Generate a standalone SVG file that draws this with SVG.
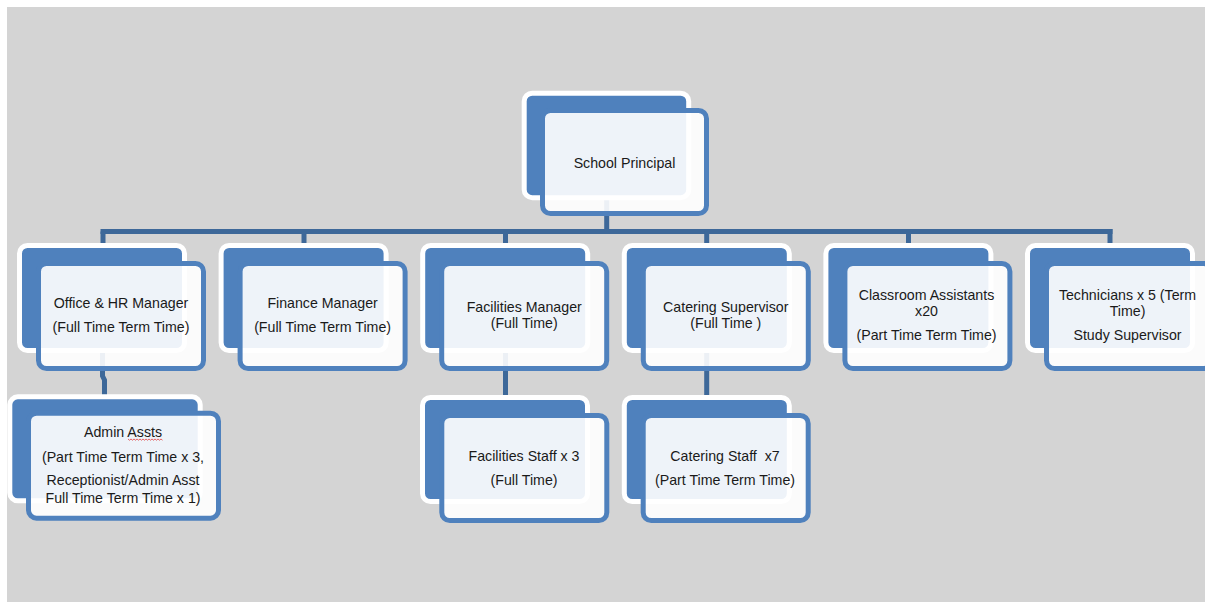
<svg xmlns="http://www.w3.org/2000/svg" width="1205" height="602" viewBox="0 0 1205 602">
<style>
.back{fill:#4F81BD;stroke:#FFFFFF;stroke-width:5}
.front{fill:#FFFFFF;fill-opacity:0.9;stroke:#4F81BD;stroke-width:5}
.conn{stroke:#3D6899;stroke-width:5;fill:none}
text{font-family:"Liberation Sans",Arial,sans-serif;font-size:14.2px;fill:#1A1A1A;text-anchor:middle;white-space:pre}
</style>
<rect x="0" y="0" width="1205" height="602" fill="#FFFFFF"/>
<rect x="7" y="7" width="1198" height="595" fill="#D4D4D4"/>
<g id="connectors">
<path class="conn" d="M606.7 195 V232"/>
<path class="conn" d="M100.5 231.5 H1112.5"/>
<path class="conn" d="M103 231.5 V250"/>
<path class="conn" d="M304 231.5 V250"/>
<path class="conn" d="M505.5 231.5 V250"/>
<path class="conn" d="M706.7 231.5 V250"/>
<path class="conn" d="M908.5 231.5 V250"/>
<path class="conn" d="M1110 229 V250"/>
<path class="conn" d="M102.5 345 V376 L104.5 380 V400"/>
<path class="conn" d="M505.5 345 V400"/>
<path class="conn" d="M706.7 345 V400"/>
</g>
<g id="school-principal">
<rect class="back" x="524.2" y="93.2" width="164.5" height="104.5" rx="8"/>
<rect class="front" x="542.5" y="110.5" width="164" height="103" rx="8"/>
<text x="624.5" y="168">School Principal</text>
</g>
<g id="office-hr-manager">
<rect class="back" x="19.5" y="245.5" width="165" height="105" rx="8"/>
<rect class="front" x="38.5" y="263.5" width="165" height="105" rx="8"/>
<text x="121" y="308">Office &amp; HR Manager</text>
<text x="121" y="332">(Full Time Term Time)</text>
</g>
<g id="finance-manager">
<rect class="back" x="221.1" y="245.5" width="165" height="105" rx="8"/>
<rect class="front" x="240.1" y="263.5" width="165" height="105" rx="8"/>
<text x="322.6" y="308">Finance Manager</text>
<text x="322.6" y="332">(Full Time Term Time)</text>
</g>
<g id="facilities-manager">
<rect class="back" x="422.7" y="245.5" width="165" height="105" rx="8"/>
<rect class="front" x="441.7" y="263.5" width="165" height="105" rx="8"/>
<text x="524.2" y="312">Facilities Manager</text>
<text x="524.2" y="328">(Full Time)</text>
</g>
<g id="catering-supervisor">
<rect class="back" x="624.3" y="245.5" width="165" height="105" rx="8"/>
<rect class="front" x="643.3" y="263.5" width="165" height="105" rx="8"/>
<text x="725.8" y="312">Catering Supervisor</text>
<text x="725.8" y="328">(Full Time )</text>
</g>
<g id="classroom-assistants">
<rect class="back" x="825.9" y="245.5" width="165" height="105" rx="8"/>
<rect class="front" x="844.9" y="263.5" width="165" height="105" rx="8"/>
<text x="926.5" y="299.5">Classroom Assistants</text>
<text x="926.5" y="316">x20</text>
<text x="926.5" y="340">(Part Time Term Time)</text>
</g>
<g id="technicians">
<rect class="back" x="1027.5" y="245.5" width="165" height="105" rx="8"/>
<rect class="front" x="1046.5" y="263.5" width="165" height="105" rx="8"/>
<text x="1127.5" y="299.5">Technicians x 5 (Term</text>
<text x="1127.5" y="316">Time)</text>
<text x="1127.5" y="340">Study Supervisor</text>
</g>
<g id="admin-assts">
<rect class="back" x="9.8" y="396.8" width="190.4" height="104" rx="8"/>
<rect class="front" x="28.5" y="413.2" width="190" height="105" rx="8"/>
<text x="123" y="437">Admin Assts</text>
<path d="M128 439 l1.5 1.2 l1.5 -1.2 l1.5 1.2 l1.5 -1.2 l1.5 1.2 l1.5 -1.2 l1.5 1.2 l1.5 -1.2 l1.5 1.2 l1.5 -1.2 l1.5 1.2 l1.5 -1.2 l1.5 1.2 l1.5 -1.2 l1.5 1.2 l1.5 -1.2 l1.5 1.2 l1.5 -1.2 l1.5 1.2 l1.5 -1.2 l1.5 1.2 l1.5 -1.2 l1.5 1.2" fill="none" stroke="#E04040" stroke-width="0.8"/>
<text x="123" y="462">(Part Time Term Time x 3,</text>
<text x="123" y="485">Receptionist/Admin Asst</text>
<text x="123" y="503">Full Time Term Time x 1)</text>
</g>
<g id="facilities-staff">
<rect class="back" x="422.5" y="397.5" width="165" height="104" rx="8"/>
<rect class="front" x="441.8" y="415.5" width="165" height="105" rx="8"/>
<text x="524" y="461">Facilities Staff x 3</text>
<text x="524" y="484.5">(Full Time)</text>
</g>
<g id="catering-staff">
<rect class="back" x="624.3" y="397.5" width="165" height="104" rx="8"/>
<rect class="front" x="643.2" y="415.5" width="165" height="105" rx="8"/>
<text x="725" y="461">Catering Staff  x7</text>
<text x="725" y="484.5">(Part Time Term Time)</text>
</g>
</svg>
